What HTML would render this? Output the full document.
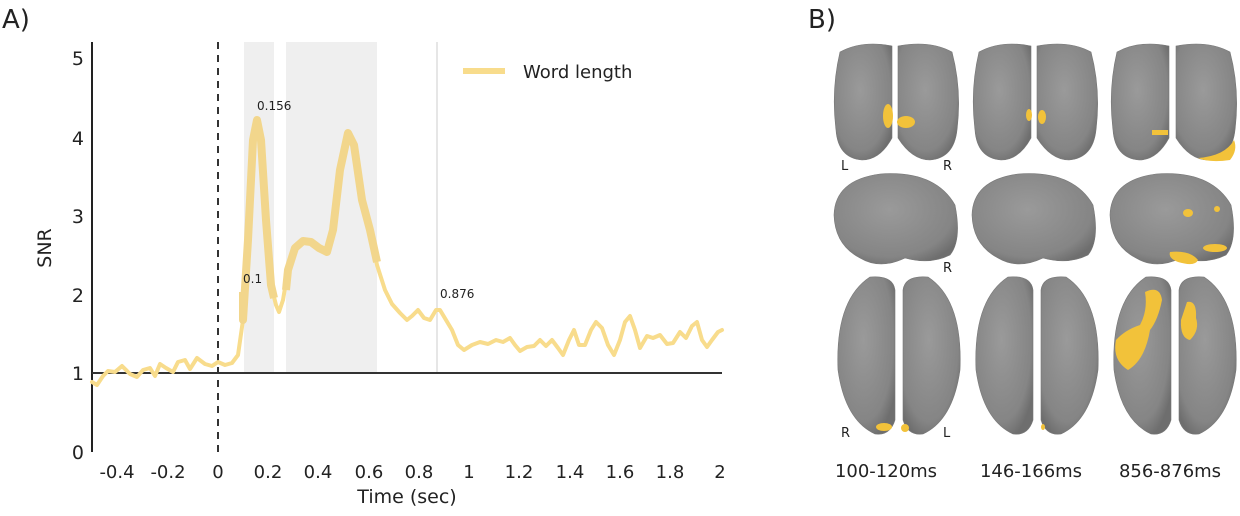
<!DOCTYPE html>
<html><head><meta charset="utf-8"><style>
body{margin:0;background:#fff;width:1240px;height:516px;overflow:hidden}
svg{display:block}
text{font-family:"DejaVu Sans","Liberation Sans",sans-serif;fill:#222}
</style></head><body>
<svg width="1240" height="516" viewBox="0 0 1240 516">
<defs>
<radialGradient id="g" cx="45%" cy="40%" r="65%"><stop offset="0" stop-color="#9a9a9a"/><stop offset="0.8" stop-color="#858585"/><stop offset="1" stop-color="#6e6e6e"/></radialGradient>
</defs>
<text x="2" y="28" font-size="26">A)</text>
<text x="808" y="28" font-size="26">B)</text>
<!-- shading -->
<rect x="244" y="42" width="30" height="331" fill="#efefef"/>
<rect x="286" y="42" width="91" height="331" fill="#efefef"/>
<line x1="437" y1="42" x2="437" y2="373" stroke="#e6e6e6" stroke-width="2"/>
<!-- axes -->
<line x1="92" y1="42" x2="92" y2="452" stroke="#222" stroke-width="2"/>
<line x1="92" y1="373" x2="722" y2="373" stroke="#333" stroke-width="2"/>
<line x1="218" y1="42" x2="218" y2="452" stroke="#333" stroke-width="2" stroke-dasharray="7,6"/>
<g font-size="19" text-anchor="end">
<text x="84" y="65">5</text><text x="84" y="145">4</text><text x="84" y="223">3</text><text x="84" y="302">2</text><text x="84" y="380">1</text><text x="84" y="459">0</text>
</g>
<g font-size="18" text-anchor="middle">
<text x="117" y="478">-0.4</text><text x="168" y="478">-0.2</text><text x="218" y="478">0</text><text x="268" y="478">0.2</text><text x="318" y="478">0.4</text><text x="369" y="478">0.6</text><text x="419" y="478">0.8</text><text x="469" y="478">1</text><text x="519" y="478">1.2</text><text x="570" y="478">1.4</text><text x="620" y="478">1.6</text><text x="670" y="478">1.8</text><text x="720" y="478">2</text>
</g>
<text x="407" y="503" font-size="19" text-anchor="middle">Time (sec)</text>
<text transform="translate(51,248) rotate(-90)" font-size="19" text-anchor="middle">SNR</text>
<!-- curve -->
<polyline fill="none" stroke="#f8dc8c" stroke-width="4" stroke-linejoin="round" stroke-linecap="round" points="92,382 97,385 103,376 108,371 115,372 122,366 130,374 137,377 143,370 150,368 155,376 160,364 166,368 173,372 178,362 185,360 190,369 197,358 205,364 212,366 218,362 225,365 232,363 238,355 243,320 248,240 253,140 257,120 261,140 266,220 271,285 276,305 279,312 283,300 288,270 295,248 303,241 311,242 319,248 327,252 333,230 340,170 348,133 354,145 362,200 370,230 377,265 385,290 392,304 400,313 407,320 412,316 418,310 424,318 430,320 436,310 440,310 446,320 452,330 458,345 464,350 472,345 480,342 488,344 496,340 503,342 510,338 515,345 520,351 527,347 534,346 540,340 546,346 552,340 558,348 563,355 569,340 574,330 579,345 585,345 591,330 596,322 602,328 608,345 614,355 620,340 625,322 630,316 635,330 640,348 647,336 653,338 660,335 667,344 673,343 680,332 686,338 692,326 697,322 702,340 707,347 712,340 718,332 722,330"/>
<polyline fill="none" stroke="#f2d68c" stroke-width="8" stroke-linejoin="round" points="243,292 243,320 248,240 253,140 257,120 261,140 266,220 271,285 274,298"/>
<polyline fill="none" stroke="#f2d68c" stroke-width="8" stroke-linejoin="round" points="286,290 288,270 295,248 303,241 311,242 319,248 327,252 333,230 340,170 348,133 354,145 362,200 370,230 377,262"/>
<g font-size="12"><text x="257" y="110">0.156</text><text x="243" y="283">0.1</text><text x="440" y="298">0.876</text></g>
<line x1="463" y1="71" x2="505" y2="71" stroke="#f8dc8c" stroke-width="6"/>
<text x="523" y="78" font-size="18">Word length</text>
<!-- brains -->
<g fill="url(#g)" stroke="#777" stroke-width="0.6">
<path d="M840,52 Q862,40 892,46 L892,138 Q880,160 862,160 Q838,158 836,130 Q831,90 840,52Z"/>
<path d="M898,46 Q930,40 952,52 Q962,90 957,130 Q954,158 930,160 Q912,160 898,138Z"/>
<path d="M979,52 Q1001,40 1031,46 L1031,138 Q1019,160 1001,160 Q977,158 975,130 Q970,90 979,52Z"/>
<path d="M1037,46 Q1069,40 1091,52 Q1101,90 1096,130 Q1093,158 1069,160 Q1051,160 1037,138Z"/>
<path d="M1117,52 Q1139,40 1169,46 L1169,138 Q1157,160 1139,160 Q1115,158 1113,130 Q1108,90 1117,52Z"/>
<path d="M1176,46 Q1208,40 1230,52 Q1240,90 1235,130 Q1232,158 1208,160 Q1190,160 1176,138Z"/>
<path d="M834,215 Q835,180 880,174 Q935,170 955,205 Q962,240 950,255 Q930,265 905,258 Q880,270 860,258 Q835,245 834,215Z"/>
<path d="M972,215 Q973,180 1018,174 Q1073,170 1093,205 Q1100,240 1088,255 Q1068,265 1043,258 Q1018,270 998,258 Q973,245 972,215Z"/>
<path d="M1110,215 Q1111,180 1156,174 Q1211,170 1231,205 Q1238,240 1226,255 Q1206,265 1181,258 Q1156,270 1136,258 Q1111,245 1110,215Z"/>
<path d="M870,277 Q893,275 895,290 L895,420 Q890,436 875,434 Q845,420 838,370 Q835,300 870,277Z"/>
<path d="M903,290 Q905,275 928,277 Q963,300 960,370 Q953,420 923,434 Q908,436 903,420Z"/>
<path d="M1008,277 Q1031,275 1033,290 L1033,420 Q1028,436 1013,434 Q983,420 976,370 Q973,300 1008,277Z"/>
<path d="M1041,290 Q1043,275 1066,277 Q1101,300 1098,370 Q1091,420 1061,434 Q1046,436 1041,420Z"/>
<path d="M1146,277 Q1169,275 1171,290 L1171,420 Q1166,436 1151,434 Q1121,420 1114,370 Q1111,300 1146,277Z"/>
<path d="M1179,290 Q1181,275 1204,277 Q1239,300 1236,370 Q1229,420 1199,434 Q1184,436 1179,420Z"/>
</g>
<g fill="#f2c23a">
<ellipse cx="888" cy="116" rx="5" ry="12"/><ellipse cx="906" cy="122" rx="9" ry="6"/>
<ellipse cx="1029" cy="115" rx="3" ry="6"/><ellipse cx="1042" cy="117" rx="4" ry="7"/>
<rect x="1152" y="130" width="16" height="5"/><path d="M1198,158 Q1225,156 1234,140 Q1238,150 1230,160 Q1210,163 1198,158Z"/>
<ellipse cx="1188" cy="213" rx="5" ry="4"/><ellipse cx="1217" cy="209" rx="3" ry="3"/>
<path d="M1170,252 Q1190,250 1198,260 Q1195,267 1178,262 Q1168,258 1170,252Z"/><ellipse cx="1215" cy="248" rx="12" ry="4"/>
<path d="M1145,292 Q1160,285 1162,300 Q1158,320 1150,330 Q1145,360 1128,370 Q1112,360 1116,340 Q1125,330 1140,325 Q1148,310 1145,292Z"/>
<path d="M1187,302 Q1197,300 1196,318 Q1200,330 1190,340 Q1180,338 1181,320Z"/>
<ellipse cx="884" cy="427" rx="8" ry="4"/><ellipse cx="905" cy="428" rx="4" ry="4"/>
<ellipse cx="1043" cy="427" rx="2" ry="3"/>
</g>
<g font-size="13" fill="#222"><text x="841" y="170">L</text><text x="943" y="170">R</text><text x="943" y="272">R</text><text x="841" y="437">R</text><text x="943" y="437">L</text></g>
<g font-size="18" text-anchor="middle"><text x="886" y="477">100-120ms</text><text x="1031" y="477">146-166ms</text><text x="1170" y="477">856-876ms</text></g>
</svg>
</body></html>
